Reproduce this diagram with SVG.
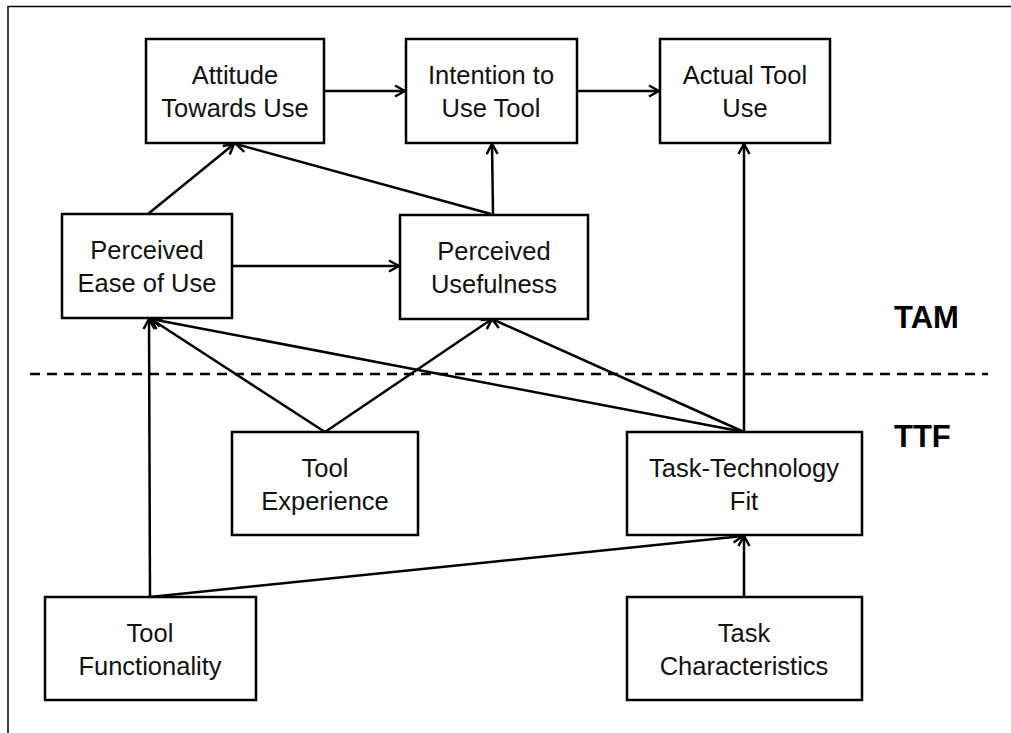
<svg xmlns="http://www.w3.org/2000/svg" width="1011" height="733" viewBox="0 0 1011 733">
  <style>
    .box { fill: #ffffff; stroke: #000000; stroke-width: 2.5; }
    .lbl { font-family: "Liberation Sans", Arial, sans-serif; font-size: 25.5px; fill: #111111; text-anchor: middle; }
    .tag { font-family: "Liberation Sans", Arial, sans-serif; font-size: 31px; font-weight: bold; fill: #000000; }
    .edge { fill: none; stroke: #000000; stroke-width: 2.5; marker-end: url(#arrow); }
    .frame { fill: none; stroke: #000000; stroke-width: 1.5; }
    .divider { stroke: #000000; stroke-width: 2.5; stroke-dasharray: 10 7; }
  </style>
  <defs>
    <marker id="arrow" viewBox="0 0 14 14" refX="12" refY="7" markerWidth="14" markerHeight="14" markerUnits="userSpaceOnUse" orient="auto">
      <path d="M2,1.5 L12,7 L2,12.5" fill="none" stroke="#000000" stroke-width="2.5"/>
    </marker>
  </defs>

  <rect width="1011" height="733" fill="#ffffff"/>
  <!-- outer frame (top and left edges) -->
  <path class="frame" d="M8,733 L8,6.5 L1011,6.5"/>

  <!-- TAM / TTF divider -->
  <line class="divider" x1="30" y1="374" x2="988" y2="374"/>
  <text class="tag" x="894" y="328">TAM</text>
  <text class="tag" x="894" y="447">TTF</text>

  <g id="connectors">
    <line class="edge" x1="324" y1="91" x2="405" y2="91"/>
    <line class="edge" x1="577" y1="91" x2="659" y2="91"/>
    <line class="edge" x1="148" y1="214" x2="234" y2="144"/>
    <line class="edge" x1="491" y1="214" x2="236" y2="144"/>
    <line class="edge" x1="493" y1="214" x2="492" y2="144"/>
    <line class="edge" x1="232" y1="266" x2="399" y2="266"/>
    <line class="edge" x1="744" y1="432" x2="744" y2="144"/>
    <line class="edge" x1="744" y1="432" x2="492" y2="319"/>
    <line class="edge" x1="744" y1="432" x2="151" y2="319"/>
    <line class="edge" x1="325" y1="432" x2="151" y2="319"/>
    <line class="edge" x1="325" y1="432" x2="492" y2="319"/>
    <line class="edge" x1="150" y1="597" x2="149" y2="319"/>
    <line class="edge" x1="150" y1="597" x2="743" y2="536"/>
    <line class="edge" x1="744" y1="597" x2="744" y2="536"/>
  </g>

  <g id="attitude">
    <rect class="box" x="146" y="39" width="178" height="104"/>
    <text class="lbl" x="235" y="84">Attitude</text>
    <text class="lbl" x="235" y="117">Towards Use</text>
  </g>
  <g id="intention">
    <rect class="box" x="406" y="39" width="171" height="104"/>
    <text class="lbl" x="491" y="84">Intention to</text>
    <text class="lbl" x="491" y="117">Use Tool</text>
  </g>
  <g id="actual-use">
    <rect class="box" x="660" y="39" width="170" height="104"/>
    <text class="lbl" x="745" y="84">Actual Tool</text>
    <text class="lbl" x="745" y="117">Use</text>
  </g>
  <g id="ease-of-use">
    <rect class="box" x="62" y="214" width="170" height="104"/>
    <text class="lbl" x="147" y="259">Perceived</text>
    <text class="lbl" x="147" y="292">Ease of Use</text>
  </g>
  <g id="usefulness">
    <rect class="box" x="400" y="215" width="188" height="104"/>
    <text class="lbl" x="494" y="260">Perceived</text>
    <text class="lbl" x="494" y="293">Usefulness</text>
  </g>
  <g id="tool-experience">
    <rect class="box" x="232" y="432" width="186" height="103"/>
    <text class="lbl" x="325" y="477">Tool</text>
    <text class="lbl" x="325" y="510">Experience</text>
  </g>
  <g id="task-technology-fit">
    <rect class="box" x="627" y="432" width="235" height="103"/>
    <text class="lbl" x="744" y="477">Task-Technology</text>
    <text class="lbl" x="744" y="510">Fit</text>
  </g>
  <g id="tool-functionality">
    <rect class="box" x="45" y="597" width="211" height="103"/>
    <text class="lbl" x="150" y="642">Tool</text>
    <text class="lbl" x="150" y="675">Functionality</text>
  </g>
  <g id="task-characteristics">
    <rect class="box" x="627" y="597" width="235" height="103"/>
    <text class="lbl" x="744" y="642">Task</text>
    <text class="lbl" x="744" y="675">Characteristics</text>
  </g>
</svg>
